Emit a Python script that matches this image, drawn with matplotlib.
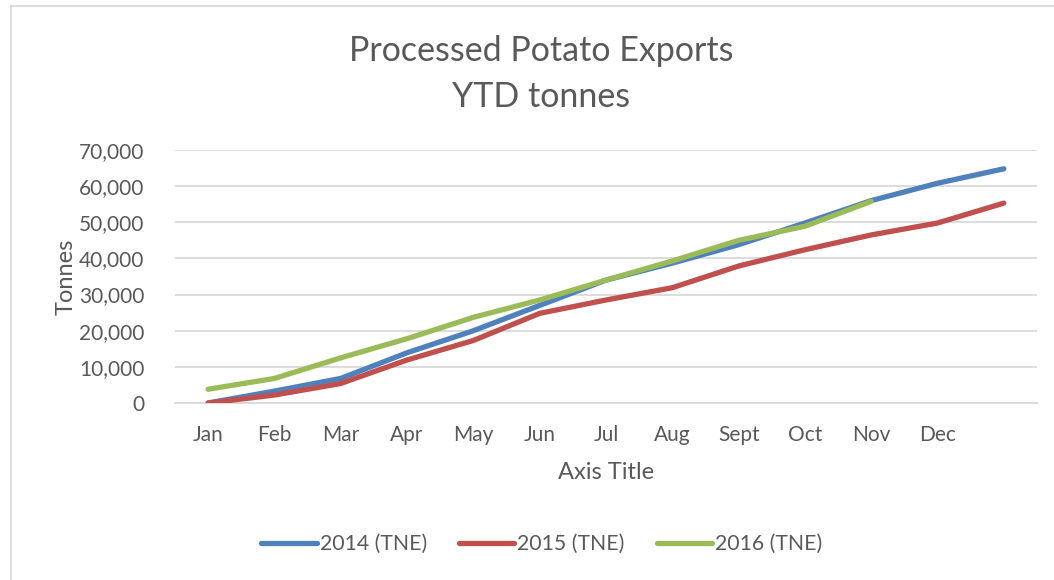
import matplotlib
matplotlib.use('Agg')
import matplotlib.pyplot as plt
from matplotlib.lines import Line2D
from matplotlib.ticker import FuncFormatter

BLUE = '#4F81BD'; RED = '#C0504D'; GREEN = '#9BBB59'
TXT = '#595959'; GRID = '#D9D9D9'
plt.rcParams['font.family'] = ['Lato', 'DejaVu Sans']

# ── data ────────────────────────────────────────────────────────────
months = ['Jan', 'Feb', 'Mar', 'Apr', 'May', 'Jun', 'Jul', 'Aug',
          'Sept', 'Oct', 'Nov', 'Dec', '']
t2014 = [0, 3300, 6800, 13900, 20000, 27000, 34000, 38700, 43800,
         49800, 56000, 60800, 64800]
t2015 = [0, 2200, 5400, 11900, 17300, 24800, 28500, 31900, 37900,
         42400, 46500, 49800, 55300]
t2016 = [3800, 6800, 12500, 17800, 23700, 28500, 34000, 39300, 45000,
         48900, 55800]
series = [('2014 (TNE)', t2014, BLUE),
          ('2015 (TNE)', t2015, RED),
          ('2016 (TNE)', t2016, GREEN)]

fig = plt.figure(figsize=(10.54, 5.8), dpi=100)
ax = fig.add_axes([175/1054, 1 - 403/580, (1037-175)/1054, (403-150)/580])

for name, vals, col in series:
    ax.plot(range(len(vals)), vals, color=col, lw=3.8,
            solid_capstyle='round', solid_joinstyle='round', label=name,
            zorder=3)

ax.set_xlim(-0.5, len(months) - 0.5)
ax.set_ylim(0, 70000)
ax.set_yticks(range(0, 70001, 10000))
ax.yaxis.set_major_formatter(FuncFormatter(lambda v, p: f'{int(v):,}'))
ax.set_xticks(range(len(months)))
ax.set_xticklabels(months)
ax.tick_params(length=0, labelsize=15, colors=TXT)
ax.tick_params(axis='x', pad=16)
ax.tick_params(axis='y', pad=22)
ax.grid(axis='y', color=GRID, lw=1.3)
ax.set_axisbelow(True)
for s in ['top', 'right', 'left']:
    ax.spines[s].set_visible(False)
ax.spines['bottom'].set_color(GRID)
ax.spines['bottom'].set_linewidth(1.3)

ax.set_ylabel('Tonnes', fontsize=17, color=TXT, labelpad=2)
ax.set_xlabel('Axis Title', fontsize=17, color=TXT, labelpad=12)

fig.text(0.5135, 1 - 51/580, 'Processed Potato Exports', ha='center',
         va='center', fontsize=24.5, color=TXT)
fig.text(0.5135, 1 - 97/580, 'YTD tonnes', ha='center', va='center',
         fontsize=24.5, color=TXT)

fig.legend(loc='center', bbox_to_anchor=(0.514, 1 - 544/580), ncol=3,
           frameon=False, fontsize=15.3, handlelength=2.6, handletextpad=0.15,
           columnspacing=1.5, labelcolor=TXT)

# chart frame (left and top edges)
fig.add_artist(Line2D([11/1054, 11/1054], [0, 1 - 6/580], color=GRID, lw=1.3))
fig.add_artist(Line2D([11/1054, 1], [1 - 6/580, 1 - 6/580], color=GRID, lw=1.3))

fig.savefig('out.png', dpi=100)
